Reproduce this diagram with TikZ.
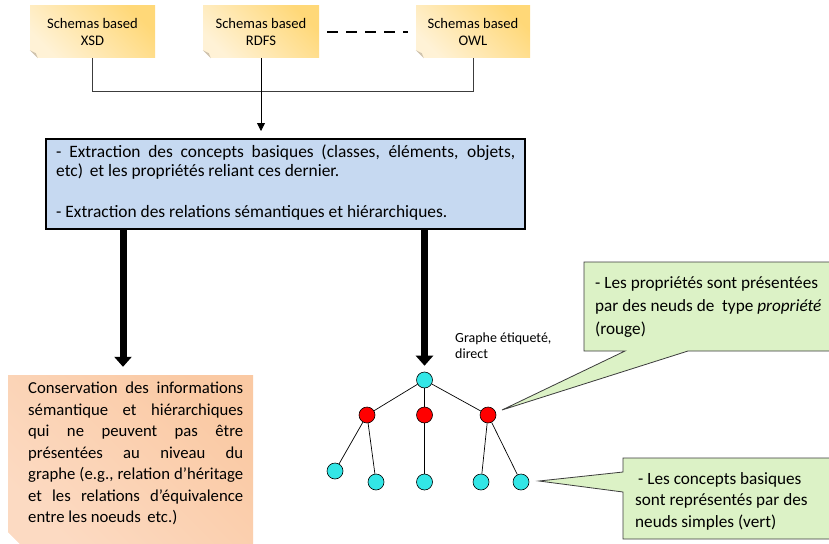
\documentclass[tikz,border=0pt]{standalone}
\usepackage{fontspec}
\setmainfont{Carlito}
\usetikzlibrary{arrows.meta}
\definecolor{noteDark}{HTML}{FFD878}
\definecolor{noteLight}{HTML}{FFF2D6}
\definecolor{foldC}{HTML}{CFC3AE}
\definecolor{blueF}{HTML}{C6D9F1}
\definecolor{peachA}{HTML}{FAC9A3}
\definecolor{peachB}{HTML}{FCDAC2}
\definecolor{peachFold}{HTML}{C9A88E}
\definecolor{greenF}{HTML}{DCF2C6}
\definecolor{cyanF}{HTML}{33E6E6}
\definecolor{lineG}{HTML}{3C3C3C}
\tikzset{
  note/.style={shade, top color=noteDark, bottom color=noteLight, shading angle=-45,
    minimum height=52pt, inner sep=0pt, align=center,
    font=\fontsize{14.6}{17}\selectfont},
  conn/.style={draw=lineG, line width=0.8pt},
  dashline/.style={draw=black, line width=2pt, dash pattern=on 11pt off 8pt},
  smallarrow/.style={draw=black, line width=0.8pt, -{Triangle[width=8pt,length=8pt]}},
  bigarrow/.style={draw=black, line width=7pt, -{Triangle[width=17pt,length=10pt]}},
  bluebox/.style={draw=black, line width=1.2pt, fill=blueF, minimum width=479pt,
    minimum height=90pt, inner sep=0pt},
  maintext/.style={font=\fontsize{17.4}{19}\selectfont, inner sep=0pt},
  peachbox/.style={shade, top color=peachA, bottom color=peachB, shading angle=-45,
    minimum width=245pt, minimum height=169pt, inner sep=0pt},
  peachtext/.style={font=\fontsize{16.7}{21.5}\selectfont, inner sep=0pt,
    text width=215pt, align=justify, anchor=north west},
  callout/.style={fill=greenF, draw=lineG, line width=0.8pt},
  callouttext/.style={font=\fontsize{17.2}{23}\selectfont, inner sep=0pt, align=left,
    anchor=north west},
  labeltext/.style={font=\fontsize{14}{16}\selectfont, inner sep=0pt, align=left,
    anchor=north west},
  cnode/.style={circle, draw=black, line width=0.6pt, fill=cyanF, minimum size=16pt,
    inner sep=0pt},
  rnode/.style={circle, draw=black, line width=0.6pt, fill=red, minimum size=16pt,
    inner sep=0pt},
  edge/.style={draw=black, line width=0.7pt},
}
\begin{document}
\begin{tikzpicture}[x=1pt,y=-1pt]
\useasboundingbox (0,0) rectangle (829,543);
\fill[white] (0,0) rectangle (829,543);

% sticky notes
\node[note, minimum width=125pt] (xsd) at (92.5,32) {Schemas based\\XSD};
\node[note, minimum width=116pt] (rdfs) at (261,32) {Schemas based\\RDFS};
\node[note, minimum width=114pt] (owl) at (473,32) {Schemas based\\OWL};
\foreach \n in {xsd,rdfs,owl}{
  \fill[white] (\n.south west) -- ++(8,0) -- ++(-8,-8) -- cycle;
  \fill[foldC] ([yshift=8pt]\n.south west) -- ([xshift=8pt]\n.south west) -- ([xshift=6pt,yshift=5pt]\n.south west) -- cycle;
}

\draw[dashline, shorten <=8pt, shorten >=8pt] (rdfs.east) -- (owl.west);
\draw[conn] (xsd.south) -- ++(0,33) -| (owl.south);
\draw[smallarrow, shorten >=8pt] (rdfs.south) -- (rdfs.south |- 0,139);

% blue box
\node[bluebox] (extr) at (285.5,184) {};
\node[maintext, anchor=north west, text width=459pt, align=justify] (extrtext) at (56,145)
 {- Extraction des concepts basiques (classes, éléments, objets,\linebreak
  etc)\, et les propriétés reliant ces dernier.\par\vspace{22pt}
  \noindent- Extraction des relations sémantiques et hiérarchiques.\par};

% peach box
\node[peachbox] (cons) at (130.5,459.5) {};
\fill[white] (cons.south west) -- ++(12,0) -- ++(-12,-12) -- cycle;
\fill[peachFold] ([yshift=-12pt]cons.south west) -- ([xshift=12pt]cons.south west) -- ([xshift=9pt,yshift=-8pt]cons.south west) -- cycle;
\node[peachtext] (constext) at (28,382)
 {Conservation des informations\linebreak
  sémantique et hiérarchiques\linebreak
  qui ne peuvent pas être\linebreak
  présentées au niveau du\linebreak
  graphe (e.g., relation d’héritage\linebreak
  et les relations d’équivalence\linebreak
  entre les noeuds\, etc.)};

% tree
\node[cnode] (root) at (424.5,380) {};
\node[rnode] (r1) at (367,415) {};
\node[rnode] (r2) at (424.5,415) {};
\node[rnode] (r3) at (488,415) {};
\node[cnode] (l1) at (335,471) {};
\node[cnode] (l2) at (376,482) {};
\node[cnode] (l3) at (424.5,482) {};
\node[cnode] (l4) at (481,482) {};
\node[cnode] (l5) at (521,482) {};
\draw[edge] (root) -- (r1);
\draw[edge] (root) -- (r2);
\draw[edge] (root) -- (r3);
\draw[edge] (r1) -- (l1);
\draw[edge] (r1) -- (l2);
\draw[edge] (r2) -- (l3);
\draw[edge] (r3) -- (l4);
\draw[edge] (r3) -- (l5);

% thick arrows
\coordinate (la) at (123,0);
\draw[bigarrow, shorten >=8pt] (extr.south -| la) -- (cons.north -| la);
\draw[bigarrow, shorten >=6pt] (extr.south -| root) -- (root.north);

\node[labeltext] (glabel) at (455,333) {Graphe étiqueté,\\direct};

% callouts
\coordinate (tip1) at (502,410);
\coordinate (tip2) at (539,481);
\draw[callout] (584,262) -- (845,262) -- (845,351) -- (688,351) -- (tip1) -- (625,351) -- (584,351) -- cycle;
\node[callouttext] (c1text) at (595,276)
 {- Les propriétés sont présentées\\
  par des neuds de\ \ type \textit{propriété}\\
  (rouge)};
\draw[callout] (623,458) -- (845,458) -- (845,539) -- (623,539) -- (623,492) -- (tip2) -- (623,472) -- cycle;
\node[callouttext, font=\fontsize{17.2}{21.5}\selectfont] (c2text) at (635,472)
 {\hspace{3pt}- Les concepts basiques\\
  sont représentés par des\\
  neuds simples (vert)};
\end{tikzpicture}
\end{document}
